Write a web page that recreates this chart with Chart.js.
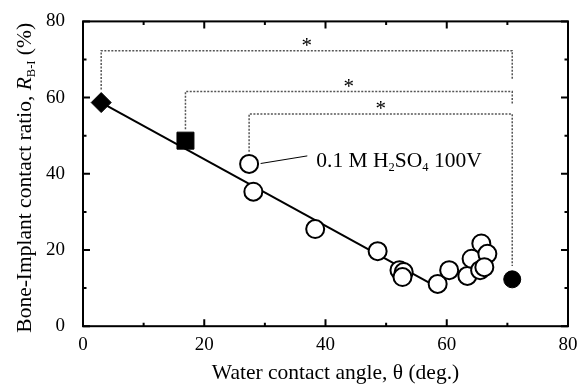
<!DOCTYPE html>
<html>
<head>
<meta charset="utf-8">
<script src="https://cdn.jsdelivr.net/npm/chart.js@4.4.0/dist/chart.umd.min.js"></script>
<style>
  html, body { margin: 0; padding: 0; background: #fff; }
  #wrap { width: 581px; height: 386px; }
</style>
</head>
<body>
<div id="wrap"><canvas id="chart"></canvas></div>
<script>
// open circles (angle in deg, ratio in %)
const openAngle = [27.4, 28.1, 38.3, 48.6, 52.2, 52.9, 52.7, 58.5, 60.4, 63.4, 64.1, 65.7, 66.7, 65.5, 66.2]
const openRatio = [42.6, 35.3, 25.5, 19.7, 14.7, 14.2, 12.9, 11.1, 14.7, 13.2, 17.7, 21.7, 19.0, 14.7, 15.5]
const diamondPt = [3.0, 58.7]
const squarePt = [16.9, 48.7]
const filledPt = [70.8, 12.3]
// regression line end points
const fitAngle = [3.0, 57.0]
const fitRatio = [58.7, 11.5]
// significance brackets: left angle, right angle, bar level, left foot, right foot
const brackets = [
  [3.0, 70.8, 72.3, 62.1, 64.7],
  [16.9, 70.8, 61.6, 51.7, 58.2],
  [27.4, 70.8, 55.7, 45.8, 15.8],
]
// label for the first open circle
const noteFrom = [29.3, 42.7]
const noteTo = [37.0, 44.7]
const xTicks = [0, 20, 40, 60, 80]
const yTicks = [0, 20, 40, 60, 80]

const FONT = '"Liberation Serif", "Times New Roman", serif'

const pts = (xs, ys) => xs.map((v, i) => ({ x: v, y: ys[i] }))

function bracketData(b) {
  return [
    { x: b[0], y: b[3] },
    { x: b[0], y: b[2] },
    { x: b[1], y: b[2] },
    { x: b[1], y: b[4] },
  ]
}

// draw a list of text runs, some of them as subscripts
function drawRuns(ctx, runs, x, y, size) {
  let cx = x
  runs.forEach(r => {
    const s = r.sub ? size * 0.58 : size
    ctx.font = (r.italic ? "italic " : "") + s + "px " + FONT
    ctx.fillText(r.t, cx, r.sub ? y + size * 0.2 : y)
    cx += ctx.measureText(r.t).width
  })
}

function runsWidth(ctx, runs, size) {
  let w = 0
  runs.forEach(r => {
    const s = r.sub ? size * 0.58 : size
    ctx.font = (r.italic ? "italic " : "") + s + "px " + FONT
    w += ctx.measureText(r.t).width
  })
  return w
}

const extras = {
  id: "extras",
  afterDatasetsDraw(chart) {
    const { ctx, chartArea: a, scales: { x, y } } = chart
    ctx.save()
    ctx.strokeStyle = "#000"
    ctx.fillStyle = "#000"

    // frame
    ctx.lineWidth = 2
    ctx.strokeRect(a.left, a.top, a.right - a.left, a.bottom - a.top)

    // inward ticks on all sides, minor every 10
    ctx.beginPath()
    for (let v = 0; v <= 80; v += 10) {
      const len = v % 20 === 0 ? 7 : 3.5
      const px = x.getPixelForValue(v)
      ctx.moveTo(px, a.bottom); ctx.lineTo(px, a.bottom - len)
      ctx.moveTo(px, a.top); ctx.lineTo(px, a.top + len)
      const py = y.getPixelForValue(v)
      ctx.moveTo(a.left, py); ctx.lineTo(a.left + len, py)
      ctx.moveTo(a.right, py); ctx.lineTo(a.right - len, py)
    }
    ctx.stroke()

    // stars above the brackets
    ctx.font = "21px " + FONT
    ctx.textAlign = "center"
    ctx.textBaseline = "middle"
    brackets.forEach(b => {
      ctx.fillText("*", x.getPixelForValue((b[0] + b[1]) / 2), y.getPixelForValue(b[2]) - 4)
    })

    // leader line and note
    ctx.lineWidth = 1
    ctx.beginPath()
    ctx.moveTo(x.getPixelForValue(noteFrom[0]), y.getPixelForValue(noteFrom[1]))
    ctx.lineTo(x.getPixelForValue(noteTo[0]), y.getPixelForValue(noteTo[1]))
    ctx.stroke()
    ctx.textAlign = "left"
    ctx.textBaseline = "alphabetic"
    drawRuns(ctx, [
      { t: "0.1 M H" }, { t: "2", sub: true }, { t: "SO" }, { t: "4", sub: true }, { t: " 100V" },
    ], x.getPixelForValue(noteTo[0]) + 9, y.getPixelForValue(noteTo[1]) + 11, 21.5)

    // axis titles
    ctx.textAlign = "center"
    ctx.font = "21.5px " + FONT
    ctx.fillText("Water contact angle, \u03b8 (deg.)", (a.left + a.right) / 2 + 10, 379)

    const yRuns = [
      { t: "Bone-Implant contact ratio, " }, { t: "R", italic: true }, { t: "B-I", sub: true }, { t: " (%)" },
    ]
    ctx.textAlign = "left"
    const w = runsWidth(ctx, yRuns, 21.5)
    ctx.translate(31, (a.top + a.bottom) / 2 + 4)
    ctx.rotate(-Math.PI / 2)
    drawRuns(ctx, yRuns, -w / 2, 0, 21.5)
    ctx.restore()
  },
}

const ctx = document.getElementById("chart").getContext("2d")
new Chart(ctx, {
  type: "scatter",
  data: {
    datasets: [
      {
        data: pts(openAngle, openRatio),
        pointStyle: "circle",
        pointRadius: 9,
        backgroundColor: "#fff",
        borderColor: "#000",
        borderWidth: 2,
      },
      {
        data: [{ x: diamondPt[0], y: diamondPt[1] }],
        pointStyle: "rectRot",
        pointRadius: 10,
        backgroundColor: "#000",
        borderColor: "#000",
        borderWidth: 1,
      },
      {
        data: [{ x: squarePt[0], y: squarePt[1] }],
        pointStyle: "rect",
        pointRadius: 12,
        backgroundColor: "#000",
        borderColor: "#000",
        borderWidth: 1,
      },
      {
        data: [{ x: filledPt[0], y: filledPt[1] }],
        pointStyle: "circle",
        pointRadius: 8.5,
        backgroundColor: "#000",
        borderColor: "#000",
        borderWidth: 1,
      },
      {
        data: pts(fitAngle, fitRatio),
        showLine: true,
        pointRadius: 0,
        borderColor: "#000",
        borderWidth: 2,
        order: 5,
      },
      ...brackets.map(b => ({
        data: bracketData(b),
        showLine: true,
        pointRadius: 0,
        borderColor: "#555",
        borderWidth: 1.5,
        borderDash: [2, 1.5],
        order: 6,
      })),
    ],
  },
  options: {
    responsive: true,
    maintainAspectRatio: false,
    animation: false,
    layout: { padding: { left: 36, right: 8, top: 10, bottom: 31 } },
    plugins: { legend: { display: false }, tooltip: { enabled: false } },
    scales: {
      x: {
        type: "linear",
        min: 0,
        max: 80,
        afterBuildTicks: s => { s.ticks = xTicks.map(v => ({ value: v })) },
        afterFit: s => { s.paddingLeft = 0; s.paddingRight = 0 },
        grid: { display: false },
        border: { display: false },
        ticks: { color: "#000", font: { family: FONT, size: 19 }, padding: -1 },
      },
      y: {
        type: "linear",
        min: 0,
        max: 80,
        afterBuildTicks: s => { s.ticks = yTicks.map(v => ({ value: v })) },
        grid: { display: false },
        border: { display: false },
        ticks: { color: "#000", font: { family: FONT, size: 19 }, padding: 10 },
      },
    },
  },
  plugins: [extras],
})
</script>
</body>
</html>
